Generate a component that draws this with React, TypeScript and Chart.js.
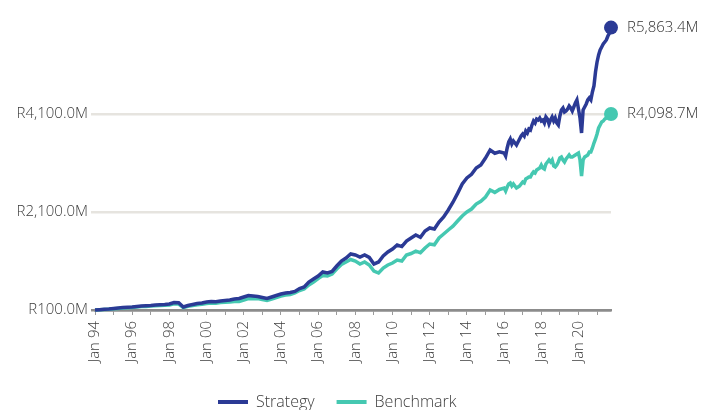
import React, { useEffect, useRef } from "react";
import { Chart, registerables } from "chart.js";

Chart.register(...registerables);

// ---- data (R millions) ----
const seriesNames = ["Strategy", "Benchmark"];
const seriesColors = ["#2B3A95", "#45C8B1"];
const endLabels = ["R5,863.4M", "R4,098.7M"];

const yTickValues = [100, 2100, 4100];
const xTickYears = [1994, 1995, 1996, 1997, 1998, 1999, 2000, 2001, 2002, 2003, 2004, 2005, 2006, 2007, 2008, 2009, 2010, 2011, 2012, 2013, 2014, 2015, 2016, 2017, 2018, 2019, 2020, 2021];
const xLabelYears = [1994, 1996, 1998, 2000, 2002, 2004, 2006, 2008, 2010, 2012, 2014, 2016, 2018, 2020];

// quarterly observations Jan 1994 .. Oct 2015
const quarterlyStartYear = 1994;
const strategyQuarterly = [
  100, 106, 114, 120,
  131, 141, 151, 157,
  161, 171, 182, 186,
  192, 202, 206, 212,
  222, 253, 247, 161,
  192, 212, 233, 243,
  263, 273, 267, 284,
  294, 304, 325, 335,
  365, 396, 386, 376,
  355, 335, 365, 396,
  427, 447, 457, 478,
  539, 569, 671, 733,
  794, 876, 855, 886,
  998, 1100, 1161, 1243,
  1223, 1182, 1223, 1172,
  1039, 1080, 1202, 1284,
  1345, 1427, 1395, 1508,
  1570, 1630, 1585, 1712,
  1774, 1752, 1896, 1998,
  2141, 2300, 2480, 2672,
  2794, 2870, 2998, 3060,
  3202, 3366, 3300, 3330,
];
const benchmarkQuarterly = [
  100, 104, 110, 116,
  124, 133, 141, 147,
  153, 161, 169, 173,
  180, 188, 192, 196,
  202, 227, 222, 151,
  176, 192, 208, 218,
  233, 243, 239, 251,
  259, 263, 273, 273,
  304, 335, 329, 335,
  314, 294, 325, 355,
  386, 406, 416, 447,
  498, 529, 610, 671,
  743, 804, 794, 835,
  937, 1029, 1080, 1131,
  1100, 1039, 1080, 1018,
  896, 855, 957, 1018,
  1059, 1120, 1100, 1223,
  1253, 1300, 1270, 1365,
  1447, 1430, 1570, 1651,
  1733, 1810, 1916, 2019,
  2100, 2160, 2263, 2320,
  2406, 2549, 2500, 2560,
];

// monthly observations Jan 2016 .. Oct 2021
const monthlyStartYear = 2016;
const strategyMonthly = [
  3304, 3243, 3406, 3529, 3590, 3488, 3549, 3508, 3468, 3529, 3590, 3651,
  3692, 3651, 3753, 3713, 3794, 3774, 3876, 3957, 3917, 3998, 3978, 4019,
  3957, 3978, 3917, 4039, 3998, 3896, 3978, 4039, 3957, 4019, 3917, 3876,
  4060, 4182, 4223, 4141, 4162, 4202, 4264, 4223, 4162, 4243, 4325, 4386,
  4202, 4019, 3713, 4182, 4243, 4304, 4386, 4427, 4386, 4549, 4672, 4958,
  5162, 5305, 5407, 5468, 5529, 5570, 5611, 5692, 5753, 5863.4,
];
const benchmarkMonthly = [
  2590, 2529, 2610, 2672, 2692, 2631, 2672, 2631, 2590, 2610, 2631, 2672,
  2712, 2692, 2774, 2794, 2815, 2815, 2876, 2917, 2896, 2957, 2978, 2998,
  3059, 2998, 2978, 3080, 3121, 3162, 3121, 3162, 3039, 3019, 3059, 3121,
  3202, 3223, 3162, 3121, 3182, 3223, 3264, 3223, 3223, 3243, 3264, 3284,
  3304, 3162, 2835, 3162, 3223, 3243, 3264, 3325, 3325, 3406, 3508, 3590,
  3692, 3815, 3876, 3937, 3957, 3998, 4019, 4039, 4080, 4098.7,
];

const FONT = "'Open Sans', 'DejaVu Sans', sans-serif";
const TEXT = "#3d3d3d";

function buildPoints(quarterly: number[], monthly: number[]) {
  const pts: { x: number; y: number }[] = [];
  quarterly.forEach((v, i) => pts.push({ x: quarterlyStartYear + i / 4, y: v }));
  monthly.forEach((v, i) => pts.push({ x: monthlyStartYear + i / 12, y: v }));
  return pts;
}

const fmtR = (v: number) =>
  "R" + v.toLocaleString("en-US", { minimumFractionDigits: 1, maximumFractionDigits: 1 }) + "M";

export default function App() {
  const ref = useRef<HTMLCanvasElement | null>(null);

  useEffect(() => {
    if (!ref.current) return;
    const seriesData = [
      buildPoints(strategyQuarterly, strategyMonthly),
      buildPoints(benchmarkQuarterly, benchmarkMonthly),
    ];
    const lastX = seriesData[0][seriesData[0].length - 1].x;

    const endLabelPlugin = {
      id: "endLabels",
      afterDatasetsDraw(chart: any) {
        const ctx = chart.ctx;
        ctx.save();
        ctx.font = `300 15px ${FONT}`;
        ctx.fillStyle = "#333";
        ctx.textAlign = "left";
        ctx.textBaseline = "middle";
        chart.data.datasets.forEach((ds: any, i: number) => {
          const meta = chart.getDatasetMeta(i);
          const pt = meta.data[meta.data.length - 1];
          ctx.fillText(endLabels[i], pt.x + 16, pt.y);
        });
        ctx.restore();
      },
    };

    const legendPlugin = {
      id: "customLegend",
      afterDraw(chart: any) {
        const ctx = chart.ctx;
        ctx.save();
        ctx.font = `300 16px ${FONT}`;
        ctx.textBaseline = "middle";
        ctx.textAlign = "left";
        const y = 402;
        const swatchW = 30;
        const gap = 8;
        const itemGap = 22;
        let x = 218;
        seriesNames.forEach((name, i) => {
          ctx.fillStyle = seriesColors[i];
          ctx.fillRect(x, y - 2, swatchW, 4);
          ctx.fillStyle = TEXT;
          ctx.fillText(name, x + swatchW + gap, y);
          x += swatchW + gap + ctx.measureText(name).width + itemGap;
        });
        ctx.restore();
      },
    };

    const chart = new Chart(ref.current, {
      type: "line",
      data: {
        datasets: seriesNames.map((name, i) => ({
          label: name,
          data: seriesData[i],
          borderColor: seriesColors[i],
          backgroundColor: seriesColors[i],
          borderWidth: 3.5,
          tension: 0,
          clip: false as any,
          pointRadius: (c: any) => (c.dataIndex === seriesData[i].length - 1 ? 7 : 0),
          pointHoverRadius: 0,
          pointBorderWidth: 0,
          pointBackgroundColor: seriesColors[i],
        })),
      },
      options: {
        animation: false,
        responsive: true,
        maintainAspectRatio: false,
        layout: { padding: { top: 16, right: 95, bottom: 40, left: 0 } },
        plugins: { legend: { display: false }, tooltip: { enabled: false } },
        scales: {
          x: {
            type: "linear",
            min: 1994,
            max: lastX,
            afterBuildTicks: (s: any) => {
              s.ticks = xTickYears.map((v) => ({ value: v }));
            },
            afterFit: (s: any) => {
              s.height = 60;
            },
            ticks: {
              autoSkip: false,
              minRotation: 90,
              maxRotation: 90,
              padding: 6,
              color: TEXT,
              font: { family: FONT, size: 15, weight: "300" as any },
              callback: (v: any) => (xLabelYears.includes(Number(v)) ? "Jan " + String(v).slice(2) : ""),
            },
            grid: { drawOnChartArea: false, drawTicks: true, tickLength: 5, color: "#9a9a9a", lineWidth: 1 },
            border: { display: true, color: "#8c8c8c", width: 2.5 },
          },
          y: {
            type: "linear",
            min: 100,
            max: 6100,
            afterBuildTicks: (s: any) => {
              s.ticks = yTickValues.map((v) => ({ value: v }));
            },
            afterFit: (s: any) => {
              s.width = 95;
            },
            ticks: {
              padding: 3,
              color: TEXT,
              font: { family: FONT, size: 15, weight: "300" as any },
              callback: (v: any) => fmtR(Number(v)),
            },
            grid: {
              color: (c: any) => (c.tick && c.tick.value === 100 ? "#8c8c8c" : "#e6e4df"),
              lineWidth: 2.5,
              tickLength: 4,
              drawTicks: true,
            },
            border: { display: false },
          },
        },
      },
      plugins: [endLabelPlugin, legendPlugin],
    });
    return () => chart.destroy();
  }, []);

  return (
    <div style={{ position: "fixed", left: 0, top: 0, width: 706, height: 410, overflow: "hidden", background: "#fff" }}>
      <div style={{ position: "relative", width: 706, height: 410 }}>
        <canvas ref={ref} />
      </div>
    </div>
  );
}
